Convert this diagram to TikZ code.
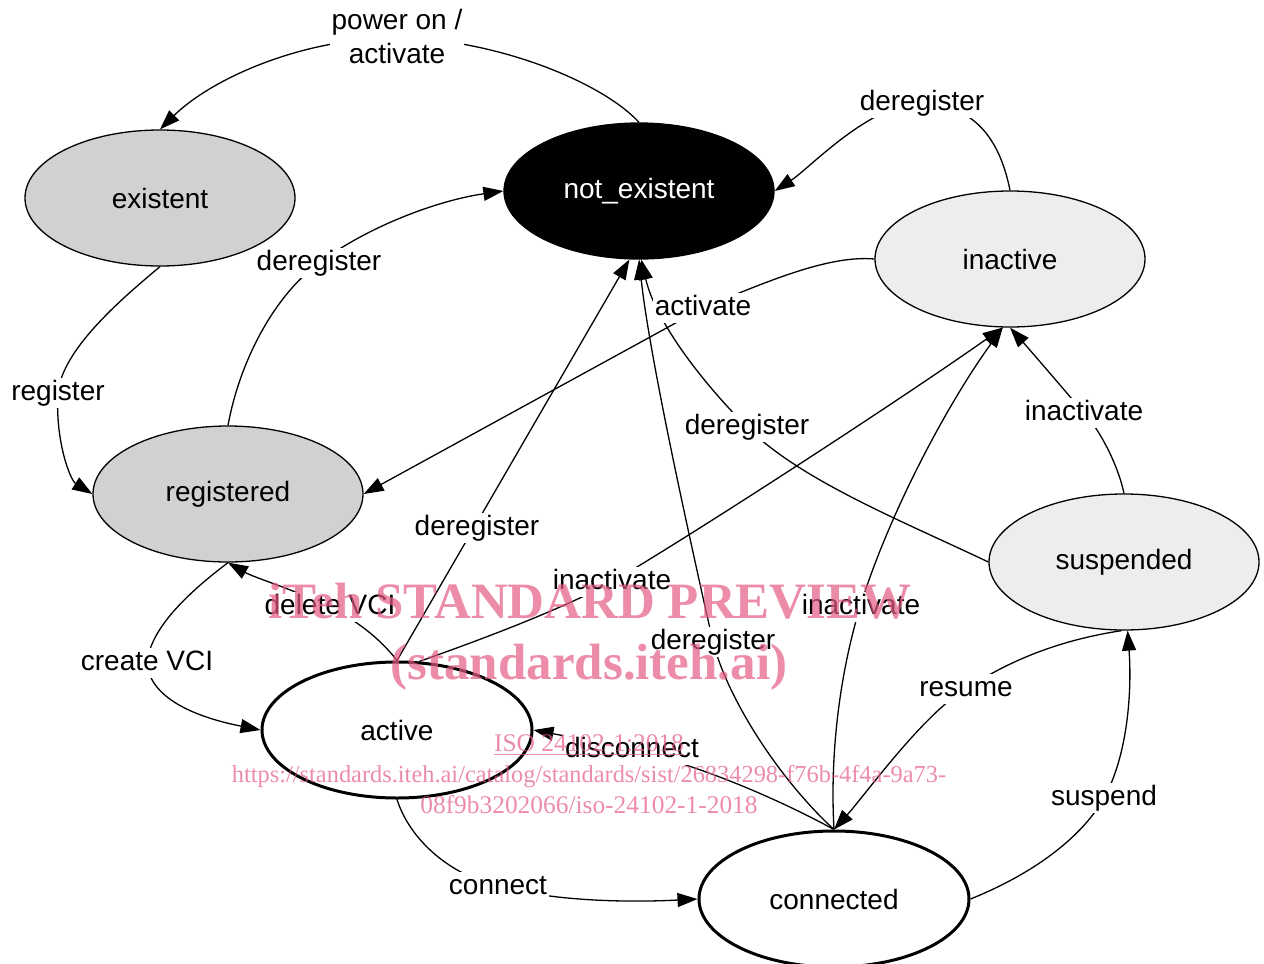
\documentclass[tikz,border=0pt]{standalone}
\usepackage{fontspec}
\setmainfont{Liberation Sans}
\newfontfamily\wmfont{Liberation Serif}
\usetikzlibrary{shapes.geometric,arrows.meta}
\definecolor{gA}{RGB}{208,209,208}
\definecolor{gB}{RGB}{237,237,237}
\definecolor{wm}{RGB}{228,91,131}
\begin{document}
\begin{tikzpicture}[x=0.5pt,y=-0.5pt,
  state/.style={ellipse,draw=black,line width=0.65pt,minimum width=135pt,minimum height=68pt,inner sep=0pt,font=\fontsize{14}{17}\selectfont},
  thickstate/.style={state,line width=1.5pt},
  edge/.style={draw=black,line width=0.65pt,-{Triangle[length=10pt,width=7pt]}},
  lbl/.style={fill=white,inner sep=1pt,font=\fontsize{14}{17}\selectfont,text height=10pt,text depth=3pt},
  wmtext/.style={text=wm,text opacity=0.7,anchor=base,inner sep=0pt}
]
\useasboundingbox (0,0) rectangle (1264,964);

% states
\node[state,fill=gA] (existent) at (160,198) {existent};
\node[state,fill=black,text=white] (not_existent) at (639,191) {not\_existent};
\node[state,fill=gB] (inactive) at (1010,259) {inactive};
\node[state,fill=gA] (registered) at (228,494) {registered};
\node[state,fill=gB] (suspended) at (1124,562) {suspended};
\node[thickstate,fill=white] (active) at (397,730) {active};
\node[thickstate,fill=white] (connected) at (834,899) {connected};

% edges
\draw[edge] (not_existent.north) .. controls (600,80) and (490,38) .. (397,38) .. controls (300,38) and (210,80) .. (existent.north);
\draw[edge] (inactive.north) .. controls (1000,140) and (975,105) .. (922,103) .. controls (870,103) and (810,168) .. (not_existent.east);
\draw[edge] (existent.south) .. controls (120,300) and (62,350) .. (58,393) .. controls (55,440) and (70,480) .. (registered.west);
\draw[edge] (registered.north) .. controls (240,360) and (275,295) .. (319,263) .. controls (370,225) and (440,200) .. (not_existent.west);
\draw[edge] (inactive.west) .. controls (830,255) and (770,280) .. (703,308) -- (registered.east);
\draw[edge] (suspended.west) .. controls (900,520) and (800,480) .. (747,427) .. controls (700,380) and (655,320) .. (not_existent.272);
\draw[edge] (suspended.north) .. controls (1118,465) and (1100,430) .. (1084,413) .. controls (1060,385) and (1030,350) .. (inactive.south);
\draw[edge] (active.north) .. controls (385,645) and (365,625) .. (330,607) .. controls (290,588) and (255,578) .. (registered.south);
\draw[edge] (registered.south) .. controls (185,595) and (150,630) .. (147,663) .. controls (150,700) and (200,718) .. (active.west);
\draw[edge] (active.north) -- (not_existent.262);
\draw[edge] (active.72) .. controls (480,640) and (560,610) .. (612,582) .. controls (700,530) and (900,400) .. (inactive.264);
\draw[edge] (connected.north) .. controls (780,780) and (728,700) .. (713,642) .. controls (690,540) and (650,360) .. (not_existent.south);
\draw[edge] (connected.north) .. controls (830,760) and (838,680) .. (860,607) .. controls (890,510) and (950,400) .. (inactive.264);
\draw[edge] (connected.north) .. controls (780,800) and (700,765) .. (632,750) .. controls (590,741) and (560,735) .. (active.east);
\draw[edge] (active.south) .. controls (410,840) and (450,875) .. (498,886) .. controls (560,903) and (640,902) .. (connected.west);
\draw[edge] (suspended.268) .. controls (1060,640) and (1010,660) .. (966,689) .. controls (925,712) and (865,795) .. (connected.north);
\draw[edge] (connected.east) .. controls (1030,875) and (1080,840) .. (1104,798) .. controls (1128,755) and (1132,690) .. (suspended.273);

% edge labels
\node[fill=white,inner sep=1pt,font=\fontsize{14}{17}\selectfont,align=center] (l1) at (397,36) {power on /\\activate};
\node[lbl] (l2) at (922,103) {deregister};
\node[lbl] (l3) at (58,393) {register};
\node[lbl] (l4) at (319,263) {deregister};
\node[lbl] (l5) at (703,308) {activate};
\node[lbl] (l6) at (747,427) {deregister};
\node[lbl] (l7) at (1084,413) {inactivate};
\node[lbl] (l8) at (330,607) {delete VCI};
\node[lbl] (l9) at (147,663) {create VCI};
\node[lbl] (l10) at (477,528) {deregister};
\node[lbl] (l11) at (612,582) {inactivate};
\node[lbl] (l12) at (713,642) {deregister};
\node[lbl] (l13) at (861,607) {inactivate};
\node[lbl] (l14) at (632,750) {disconnect};
\node[lbl] (l15) at (498,887) {connect};
\node[lbl] (l16) at (966,689) {resume};
\node[lbl] (l17) at (1104,798) {suspend};

% watermark
\node[wmtext,font=\wmfont\bfseries\fontsize{25.5}{30}\selectfont] (wm1) at (590,618) {iTeh STANDARD PREVIEW};
\node[wmtext,font=\wmfont\bfseries\fontsize{25.5}{30}\selectfont] (wm2) at (589,679) {(standards.iteh.ai)};
\node[wmtext,font=\wmfont\fontsize{12.7}{15}\selectfont] (wm3) at (589,751) {\underline{ISO 24102-1:2018}};
\node[wmtext,font=\wmfont\fontsize{12.2}{15}\selectfont] (wm4) at (589,782) {https://standards.iteh.ai/catalog/standards/sist/26834298-f76b-4f4a-9a73-};
\node[wmtext,font=\wmfont\fontsize{12.7}{15}\selectfont] (wm5) at (589,813) {08f9b3202066/iso-24102-1-2018};
\end{tikzpicture}
\end{document}
